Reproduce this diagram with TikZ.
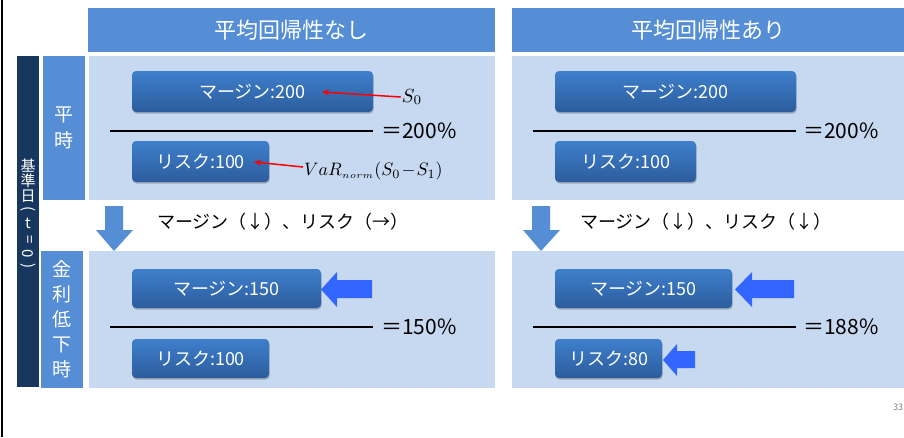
\documentclass[tikz,border=0pt]{standalone}
\usepackage{fontspec}
\usepackage{graphicx}
\newfontfamily\jp{Noto Sans CJK JP}
\usetikzlibrary{shadows,arrows.meta}
\definecolor{hdrblue}{RGB}{85,142,213}
\definecolor{panelblue}{RGB}{198,217,241}
\definecolor{navy}{RGB}{23,55,94}
\definecolor{boxtop}{RGB}{62,127,204}
\definecolor{boxbot}{RGB}{44,93,157}
\definecolor{brightblue}{RGB}{51,102,255}
\definecolor{downblue}{RGB}{85,142,213}
\tikzset{
  hdr/.style={fill=hdrblue, text=white, inner sep=0pt, font=\jp\fontsize{22}{22}\selectfont},
  panel/.style={fill=panelblue, inner sep=0pt},
  rowlab/.style={fill=hdrblue, text=white, inner sep=0pt, align=center},
  bx/.style={rounded corners=4pt, top color=boxtop, bottom color=boxbot, text=white, inner sep=0pt,
    font=\jp\fontsize{18}{18}\selectfont,
    drop shadow={shadow xshift=0.6pt, shadow yshift=-1.5pt, opacity=0.35, fill=black!70}},
  frac/.style={line width=1.3pt, black},
  eq/.style={anchor=west, inner sep=0pt, font=\jp\fontsize{21}{21}\selectfont},
  redarr/.style={red, line width=1.5pt, -{Stealth[length=7pt,width=6pt]}},
  blockarr/.style={fill=brightblue},
  downarr/.style={fill=downblue},
  change/.style={anchor=west, inner sep=0pt, font=\jp\fontsize{18}{18}\selectfont},
  mathlab/.style={inner sep=1pt},
}
\begin{document}
\begin{tikzpicture}[x=1pt,y=-1pt]
\useasboundingbox (0,0) rectangle (904,437);
\fill[white] (0,0) rectangle (904,437);
\draw[line width=1.6pt] (2,0) -- (2,437);
% headers
\node[hdr, minimum width=407pt, minimum height=44pt] (h1) at (291.5,30) {平均回帰性なし};
\node[hdr, minimum width=392pt, minimum height=44pt] (h2) at (708,30) {平均回帰性あり};
% panels
\node[panel, minimum width=406pt, minimum height=144pt] (p1) at (292,128) {};
\node[panel, minimum width=392pt, minimum height=144pt] (p2) at (708,128) {};
\node[panel, minimum width=406pt, minimum height=137pt] (p3) at (292,319.5) {};
\node[panel, minimum width=392pt, minimum height=137pt] (p4) at (708,319.5) {};
% left labels
\node[fill=navy, minimum width=22pt, minimum height=331pt, inner sep=0pt] (nb) at (28,221.5) {};
\node[text=white, align=center, inner sep=0pt, font=\jp\fontsize{15}{15}\selectfont] (nbt) at (28,215)
  {基\\準\\日\\[-3pt]\rotatebox[origin=c]{-90}{(}\\t\\\rotatebox[origin=c]{-90}{=}\\\rotatebox[origin=c]{-90}{0}\\[-3pt]\rotatebox[origin=c]{-90}{)}};
\node[rowlab, minimum width=42pt, minimum height=144pt, font=\jp\fontsize{19}{26}\selectfont] (r1) at (64,128) {平\\時};
\node[rowlab, minimum width=42pt, minimum height=137pt, font=\jp\fontsize{19}{25}\selectfont] (r2) at (62,319.5) {金\\利\\低\\下\\時};
% top left
\node[bx, minimum width=241pt, minimum height=41pt] (m1) at (252.5,91.5) {マージン:200};
\node[bx, minimum width=137pt, minimum height=41pt] (k1) at (200.5,161.5) {リスク:100};
\draw[frac] (110,131) -- (373,131);
\node[eq] (e1) at (381,131) {＝200\%};
\node[mathlab] (s0) at (412,97) {\scalebox{1.9}{$S_0$}};
\coordinate (s0tip) at (322,92);
\draw[redarr] (s0.west) -- (s0tip);
\node[mathlab, anchor=west] (var) at (303,171) {\scalebox{1.8}{$VaR_{\scriptscriptstyle norm}(S_0\!-\!S_1)$}};
\coordinate (vartip) at (254,162);
\draw[redarr] ([yshift=4pt]var.west) -- (vartip);
% top right
\node[bx, minimum width=241pt, minimum height=41pt] (m2) at (675.5,91.5) {マージン:200};
\node[bx, minimum width=141pt, minimum height=41pt] (k2) at (625.5,161.5) {リスク:100};
\draw[frac] (533,131) -- (796,131);
\node[eq] (e2) at (803,131) {＝200\%};
% transitions
\fill[downarr] (105,206) -- (123,206) -- (123,230) -- (133,230) -- (114,251) -- (96,230) -- (105,230) -- cycle;
\node[change] (c1) at (157,222) {マージン（↓）、リスク（→）};
\fill[downarr] (532,206) -- (550,206) -- (550,230) -- (560,230) -- (541,251) -- (523,230) -- (532,230) -- cycle;
\node[change] (c2) at (580,222) {マージン（↓）、リスク（↓）};
% bottom left
\node[bx, minimum width=189pt, minimum height=39pt] (m3) at (226.5,288.5) {マージン:150};
\fill[blockarr] (321,289.5) -- (337,272) -- (337,280) -- (372,280) -- (372,298) -- (337,298) -- (337,307) -- cycle;
\draw[frac] (110,327) -- (373,327);
\node[eq] (e3) at (381,327) {＝150\%};
\node[bx, minimum width=137pt, minimum height=39pt] (k3) at (200.5,358.5) {リスク:100};
% bottom right
\node[bx, minimum width=177pt, minimum height=39pt] (m4) at (643.5,288.5) {マージン:150};
\fill[blockarr] (735,289.5) -- (752,272) -- (752,280) -- (794,280) -- (794,298) -- (752,298) -- (752,307) -- cycle;
\draw[frac] (533,327) -- (796,327);
\node[eq] (e4) at (803,327) {＝188\%};
\node[bx, minimum width=107pt, minimum height=39pt] (k4) at (608.5,358.5) {リスク:80};
\fill[blockarr] (663,360) -- (677,344) -- (677,351) -- (695,351) -- (695,368) -- (677,368) -- (677,376) -- cycle;
% page number
\node[anchor=west, text=gray, inner sep=0pt, font=\jp\fontsize{9}{9}\selectfont] (pg) at (893,407) {33};
\end{tikzpicture}
\end{document}
